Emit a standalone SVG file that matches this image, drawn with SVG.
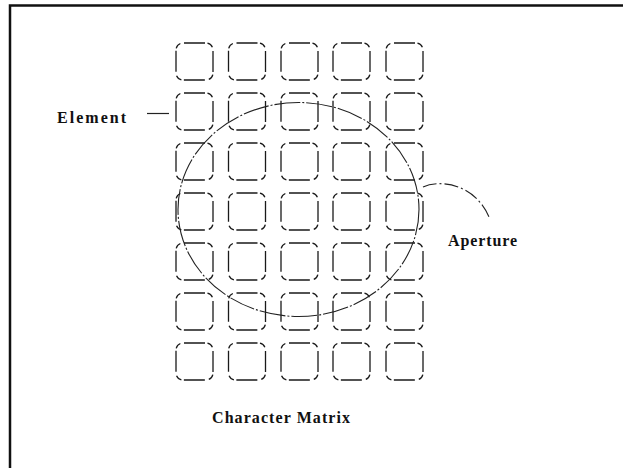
<svg xmlns="http://www.w3.org/2000/svg" width="623" height="468" viewBox="0 0 623 468">
<style>
.frame{fill:none;stroke:#111;stroke-width:2.5}
.cell{fill:none;stroke:#1a1a1a;stroke-width:1.3;stroke-dasharray:21 2.5 6.5 4;stroke-dashoffset:-1}
.ap{fill:none;stroke:#222;stroke-width:1.1;stroke-dasharray:26 2 2 2}
.lead{fill:none;stroke:#222;stroke-width:1.2}
.lbl{font-family:"Liberation Serif","Times New Roman",serif;font-weight:bold;font-size:16px;fill:#111}
</style>
<defs>
<rect id="c" width="37" height="37" rx="7" ry="7" class="cell"/>
</defs>
<rect width="623" height="468" fill="#fff"/>
<path class="frame" d="M10,468 V5.5 H623"/>
<g id="matrix">
<use href="#c" x="176" y="43"/><use href="#c" x="228.5" y="43"/><use href="#c" x="281" y="43"/><use href="#c" x="333" y="43"/><use href="#c" x="386" y="43"/>
<use href="#c" x="176" y="93"/><use href="#c" x="228.5" y="93"/><use href="#c" x="281" y="93"/><use href="#c" x="333" y="93"/><use href="#c" x="386" y="93"/>
<use href="#c" x="176" y="143"/><use href="#c" x="228.5" y="143"/><use href="#c" x="281" y="143"/><use href="#c" x="333" y="143"/><use href="#c" x="386" y="143"/>
<use href="#c" x="176" y="193"/><use href="#c" x="228.5" y="193"/><use href="#c" x="281" y="193"/><use href="#c" x="333" y="193"/><use href="#c" x="386" y="193"/>
<use href="#c" x="176" y="243"/><use href="#c" x="228.5" y="243"/><use href="#c" x="281" y="243"/><use href="#c" x="333" y="243"/><use href="#c" x="386" y="243"/>
<use href="#c" x="176" y="293"/><use href="#c" x="228.5" y="293"/><use href="#c" x="281" y="293"/><use href="#c" x="333" y="293"/><use href="#c" x="386" y="293"/>
<use href="#c" x="176" y="343"/><use href="#c" x="228.5" y="343"/><use href="#c" x="281" y="343"/><use href="#c" x="333" y="343"/><use href="#c" x="386" y="343"/>
</g>
<g id="aperture">
<ellipse class="ap" cx="298.5" cy="209.5" rx="120.5" ry="107"/>
</g>
<g id="connectors">
<line class="lead" x1="147" y1="113.5" x2="169" y2="113.5"/>
<path class="ap" style="stroke-dasharray:14 3 2 3" d="M423,187 C440,179 475,184 489,217"/>
</g>
<g id="label-element"><text class="lbl" x="57" y="123" textLength="69" lengthAdjust="spacing">Element</text></g>
<g id="label-aperture"><text class="lbl" x="448" y="246" textLength="69" lengthAdjust="spacing">Aperture</text></g>
<g id="label-matrix"><text class="lbl" x="212" y="423" textLength="138" lengthAdjust="spacing">Character Matrix</text></g>
</svg>
